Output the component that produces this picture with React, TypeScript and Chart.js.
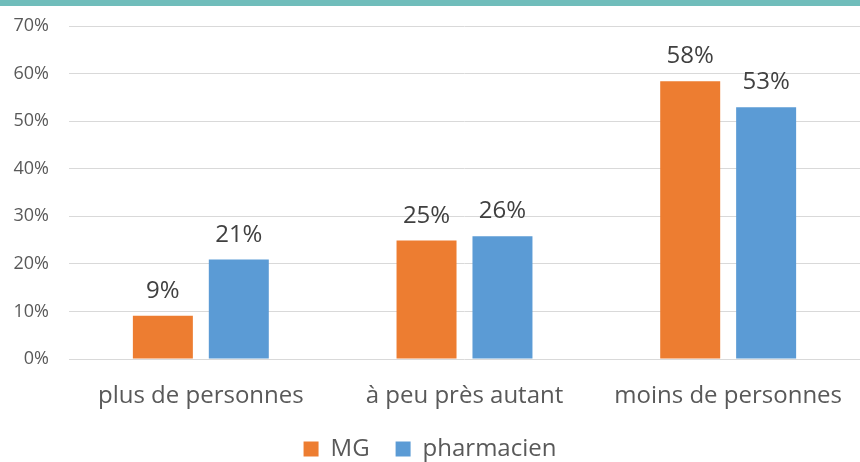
import { useEffect, useRef } from "react";
import { Chart, registerables } from "chart.js";
Chart.register(...registerables);

const categories = ["plus de personnes", "à peu près autant", "moins de personnes"];
const mgValues = [9.1, 24.9, 58.4];
const pharmacienValues = [20.9, 25.8, 52.9];
const yTicks = [0, 10, 20, 30, 40, 50, 60, 70];

const FONT = "'Open Sans', sans-serif";

const topBand = {
  id: "topBand",
  beforeDraw(chart: any) {
    const ctx = chart.ctx;
    ctx.save();
    ctx.fillStyle = "#70BDBB";
    ctx.fillRect(0, 0, chart.width, 6);
    ctx.restore();
  },
};

const dataLabels = {
  id: "dataLabels",
  afterDatasetsDraw(chart: any) {
    const ctx = chart.ctx;
    ctx.save();
    ctx.font = `24px ${FONT}`;
    ctx.fillStyle = "#404040";
    ctx.textAlign = "center";
    ctx.textBaseline = "alphabetic";
    chart.data.datasets.forEach((ds: any, i: number) => {
      const meta = chart.getDatasetMeta(i);
      meta.data.forEach((el: any, j: number) => {
        ctx.fillText(Math.round(ds.data[j]) + "%", el.x, el.y - 18);
      });
    });
    ctx.restore();
  },
};

export default function App() {
  const ref = useRef<HTMLCanvasElement>(null);
  useEffect(() => {
    document.body.style.margin = "0";
    const chart = new Chart(ref.current!, {
      type: "bar",
      data: {
        labels: categories,
        datasets: [
          { label: "MG", data: mgValues, backgroundColor: "#ED7D31" },
          { label: "pharmacien", data: pharmacienValues, backgroundColor: "#5B9BD5" },
        ],
      },
      options: {
        animation: false,
        responsive: false,
        layout: { padding: { top: 0, right: 0, left: 0, bottom: -9 } },
        datasets: { bar: { categoryPercentage: 0.576, barPercentage: 0.79 } },
        scales: {
          x: {
            grid: { display: false },
            border: { display: false },
            afterFit(scale: any) {
              scale.height = 52;
            },
            ticks: { color: "#595959", font: { family: FONT, size: 24 }, padding: 15 },
          },
          y: {
            min: 0,
            max: 70,
            afterBuildTicks(scale: any) {
              scale.ticks = yTicks.map((v) => ({ value: v }));
            },
            afterFit(scale: any) {
              scale.width = 69;
              scale.paddingTop = 26;
            },
            grid: { color: "#D9D9D9", lineWidth: 1, drawTicks: false },
            border: { display: false },
            ticks: {
              color: "#595959",
              font: { family: FONT, size: 18 },
              padding: 20,
              callback: (v: any) => v + "%",
            },
          },
        },
        plugins: {
          legend: {
            position: "bottom",
            labels: {
              color: "#595959",
              font: { family: FONT, size: 24 },
              boxWidth: 15,
              boxHeight: 15,
              padding: 26,
            },
          },
          tooltip: { enabled: false },
        },
      },
      plugins: [topBand, dataLabels],
    });
    return () => chart.destroy();
  }, []);
  return <canvas ref={ref} width={860} height={462} style={{ display: "block" }} />;
}
